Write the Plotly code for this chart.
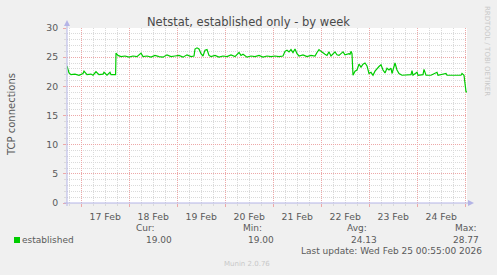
import pandas as pd
import plotly.graph_objects as go

# ---- data (hours after 2026-02-16 16:55, TCP connections) ----
hours = [0, 1, 2, 4, 6, 8, 8.5, 10, 12, 13, 14.5, 16, 18, 18.5, 20, 21.5, 22, 24, 24.3,
         24.5, 25.5, 27, 29, 31, 33, 35, 37, 38, 40, 42, 44, 46, 48, 50, 52, 54, 56, 58,
         60, 62, 63.5, 64, 65, 66, 67, 68, 69, 70, 71, 72, 74, 76, 78, 80, 82, 84, 86,
         87, 88, 90, 92, 94, 96, 98, 100, 102, 104, 106, 108, 109, 110, 111, 112, 113,
         114, 115, 116, 118, 120, 122, 124, 125, 126, 127, 128, 129, 130, 131, 132, 133,
         134, 135, 136, 137, 138, 139, 140, 141, 141.5, 142, 142.5, 143, 144, 145, 146,
         147, 148, 149, 150, 151, 152, 153, 154, 155, 156, 157, 158, 159, 160, 161, 162,
         162.5, 164, 165, 166, 167.5, 170, 172, 172.5, 173, 175, 175.5, 178, 178.5, 179.5,
         182, 185, 185.5, 189.5, 190, 194, 197, 197.5, 198.5, 199.5, 200]
connections = [23.5, 22.3, 22.0, 22.1, 21.9, 22.2, 22.6, 22.0, 22.1, 21.9, 22.5, 22.0, 22.1,
               22.4, 21.9, 22.4, 22.0, 22.0, 22.0,
               25.7, 25.3, 25.1, 25.2, 25.0, 25.2, 25.1, 25.7, 25.1, 25.2, 25.0, 25.3, 25.1,
               25.0, 25.4, 25.1, 25.2, 25.3, 25.0,
               25.4, 25.1, 25.2, 26.4, 26.6, 26.4, 25.6, 25.2, 26.2, 26.3, 25.3, 25.1, 25.3,
               25.0, 25.2, 25.1, 25.4, 25.1, 25.8,
               25.3, 25.5, 25.0, 25.2, 25.1, 25.3, 25.0, 25.2, 25.1, 25.2, 25.1, 25.2, 26.0,
               26.2, 25.9, 26.3, 25.8,
               26.4, 25.6, 25.2, 25.4, 25.1, 25.3, 25.2, 25.8, 26.3, 26.0, 25.7, 25.5, 25.3,
               25.9, 25.2, 25.6,
               25.9, 25.4, 25.3, 25.6, 25.9, 25.4, 25.5, 25.6, 25.5, 26.0, 25.6, 21.9, 22.6,
               22.8, 23.8,
               23.3, 23.8, 24.0, 23.5, 22.2, 22.4, 21.9, 22.6, 23.1, 23.4, 23.7, 22.8, 22.3,
               23.1, 22.8, 23.1,
               22.2, 24.0, 22.8, 22.2, 21.9, 21.9, 22.0, 22.7, 21.9, 22.4, 21.9, 22.0, 22.9,
               21.9,
               21.9, 22.4, 21.9, 22.2, 21.9, 21.9, 21.9, 22.2, 21.9, 19.1, 19.0]

start_time = "2026-02-16 16:55"
end_time = "2026-02-25 00:55"

legend_labels = ["Cur:", "Min:", "Avg:", "Max:"]
legend_values = ["19.00", "19.00", "24.13", "28.77"]
series_name = "established"
last_update = "Last update: Wed Feb 25 00:55:00 2026"

# ---- geometry helpers (pixel -> paper) ----
L, R, T, B = 67, 30, 28, 72
W, H = 497, 275
PW, PH = W - L - R, H - T - B


def px(x):
    return (x - L) / PW


def py(y):
    return (H - B - y) / PH


times = pd.Timestamp(start_time) + pd.to_timedelta(hours, unit="h")

GREEN = "#00CC00"
MAJOR = "#EDA8A8"
MINOR = "#DADADA"
AXIS = "#B4B4E6"
TXT = "#5A5A5A"

fig = go.Figure()
fig.add_trace(go.Scatter(x=times, y=connections, mode="lines",
                         line=dict(color=GREEN, width=1.2), name=series_name,
                         hoverinfo="skip"))

fig.update_layout(
    width=W, height=H,
    margin=dict(l=L, r=R, t=T, b=B, pad=0),
    paper_bgcolor="#F0F0F0", plot_bgcolor="white",
    showlegend=False,
    font=dict(family="DejaVu Sans", size=9, color=TXT),
    title=dict(text="Netstat, established only - by week", x=0.5, xref="container",
               xanchor="center", y=1 - 22 / H, yref="container", yanchor="middle",
               font=dict(family="DejaVu Sans", size=11.5, color="#4A4A4A")),
)

fig.update_xaxes(
    type="date", range=[start_time, end_time],
    tick0="2026-02-17", dtick=86400000, tickformat="%d %b", ticklabelmode="period",
    showgrid=True, gridcolor=MAJOR, griddash="1px,1px", gridwidth=1,
    ticks="outside", ticklen=3, tickcolor=MAJOR, tickwidth=1,
    ticklabelstandoff=2,
    minor=dict(dtick=21600000, tick0="2026-02-17", showgrid=True, gridcolor=MINOR,
               griddash="1px,1px", ticks="outside", ticklen=2, tickcolor=MINOR),
    zeroline=False, showline=False,
    tickfont=dict(size=9.3, color=TXT),
)
fig.update_yaxes(
    range=[0, 30], tick0=0, dtick=5,
    showgrid=True, gridcolor=MAJOR, griddash="1px,1px", gridwidth=1,
    ticks="outside", ticklen=3, tickcolor=MAJOR, tickwidth=1,
    ticklabelstandoff=3,
    minor=dict(dtick=1, tick0=0, showgrid=True, gridcolor=MINOR,
               griddash="1px,1px", ticks="outside", ticklen=2, tickcolor=MINOR),
    zeroline=False, showline=False,
    tickfont=dict(size=9.3, color=TXT),
)

shapes = [
    # x axis line with arrow
    dict(type="line", xref="paper", yref="paper", x0=px(64), x1=px(469), y0=0, y1=0,
         line=dict(color=AXIS, width=1)),
    dict(type="path", xref="paper", yref="paper",
         path=f"M {px(468)},{py(200)} L {px(474)},{py(203)} L {px(468)},{py(206)} Z",
         fillcolor=AXIS, line=dict(width=0)),
    # y axis line with arrow
    dict(type="line", xref="paper", yref="paper", x0=0, x1=0, y0=py(206), y1=py(25),
         line=dict(color=AXIS, width=1)),
    dict(type="path", xref="paper", yref="paper",
         path=f"M {px(64)},{py(26)} L {px(67)},{py(20)} L {px(70)},{py(26)} Z",
         fillcolor=AXIS, line=dict(width=0)),
    # legend swatch
    dict(type="rect", xref="paper", yref="paper", x0=px(14), x1=px(20), y0=py(243),
         y1=py(237), fillcolor=GREEN, line=dict(width=0)),
]

ann = []


def text(x, y, s, anchor="left", size=9, color=TXT, angle=0):
    ann.append(dict(x=px(x), y=py(y), xref="paper", yref="paper", text=s, showarrow=False,
                    xanchor=anchor, yanchor="middle", textangle=angle,
                    font=dict(family="DejaVu Sans", size=size, color=color),
                    borderpad=0))


text(11, 114, "TCP connections", anchor="center", size=10, angle=-90)
text(487, 51, "RRDTOOL / TOBI OETIKER", anchor="center", size=7, color="#C8C8C8", angle=90)
text(20.5, 240, series_name)

label_right = [156, 263, 368, 477.5]
value_right = [173, 275, 377.5, 480]
for lab, val, lx, vx in zip(legend_labels, legend_values, label_right, value_right):
    text(lx, 227.5, lab, anchor="right")
    text(vx, 239.5, val, anchor="right")

text(483, 251, last_update, anchor="right")
text(271, 263.5, "Munin 2.0.76", anchor="right", size=7, color="#C8C8C8")

fig.update_layout(shapes=shapes, annotations=ann)
fig.write_html("out.html")
